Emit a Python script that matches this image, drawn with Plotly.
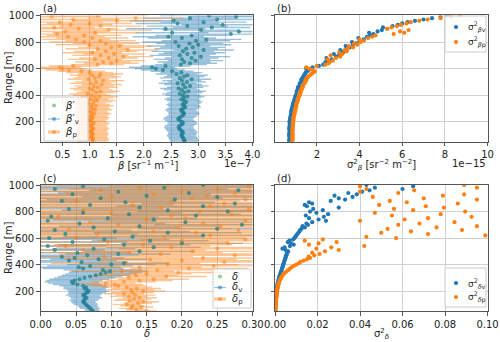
import numpy as np
import plotly.graph_objects as go

# ---------------- data ----------------
range_m = np.arange(50, 1001, 10)  # range gates [m]

# backscatter estimates [1e-7 sr^-1 m^-1]
beta_v = [2.74, 2.75, 2.73, 2.72, 2.70, 2.69, 2.71, 2.72, 2.70, 2.67,
          2.65, 2.64, 2.66, 2.70, 2.72, 2.70, 2.66, 2.63, 2.65, 2.69,
          2.72, 2.74, 2.73, 2.70, 2.68, 2.72, 2.76, 2.74, 2.71, 2.75,
          2.78, 2.73, 2.69, 2.74, 2.80, 2.72, 2.66, 2.75, 2.82, 2.70,
          2.64, 2.76, 2.85, 2.72, 2.62, 2.79, 2.70, 2.88, 2.66, 2.74,
          2.80, 2.60, 2.69, 2.52, 2.35, 2.22, 2.15, 2.40, 2.68, 2.85,
          2.74, 2.95, 2.70, 2.88, 3.05, 2.66, 2.80, 2.93, 2.72, 3.10,
          2.78, 2.90, 2.64, 3.00, 2.84, 2.58, 2.96, 3.15, 2.70, 2.45,
          2.88, 3.60, 2.52, 3.75, 3.05, 2.40, 3.25, 2.80, 3.45, 2.62,
          3.10, 2.55, 3.35, 2.85, 3.70, 3.20]
beta_p = [1.06, 1.05, 1.07, 1.04, 1.03, 1.05, 1.06, 1.04, 1.02, 1.05,
          1.07, 1.04, 1.02, 1.05, 1.08, 1.03, 1.00, 1.04, 1.06, 1.02,
          1.05, 1.09, 1.04, 1.01, 1.10, 1.06, 1.03, 1.12, 1.05, 0.98,
          1.08, 1.14, 1.02, 1.10, 1.18, 1.04, 0.96, 1.12, 1.20, 1.06,
          1.00, 1.15, 1.08, 1.22, 1.02, 1.12, 1.25, 0.98, 1.10, 1.18,
          1.05, 1.20, 1.00, 0.85, 0.62, 0.50, 0.45, 0.70, 1.15, 1.40,
          1.25, 1.50, 1.10, 1.35, 1.62, 1.20, 1.45, 1.05, 1.30, 1.70,
          1.15, 1.40, 1.55, 1.00, 1.30, 0.90, 1.20, 0.75, 1.05, 0.60,
          0.90, 0.40, 1.10, 0.55, 1.35, 0.80, 0.35, 1.20, 0.65, 1.00,
          0.45, 1.50, 0.70, 1.85, 0.30, 1.15]
beta_tot = list(beta_v)  # beta' coincides with beta_v' in the picture

# backscatter variances [1e-15 sr^-2 m^-2]
var_beta_v = [0.72, 0.71, 0.72, 0.73, 0.72, 0.70, 0.71, 0.72, 0.73, 0.72,
              0.71, 0.72, 0.73, 0.74, 0.73, 0.72, 0.74, 0.75, 0.76, 0.77,
              0.78, 0.80, 0.81, 0.80, 0.82, 0.84, 0.85, 0.87, 0.88, 0.90,
              0.92, 0.95, 0.96, 0.98, 1.00, 1.02, 1.05, 1.08, 1.06, 1.10,
              1.14, 1.12, 1.18, 1.22, 1.20, 1.26, 1.30, 1.28, 1.34, 1.38,
              1.40, 1.45, 1.48, 1.55, 1.62, 1.50, 1.80, 2.10, 2.30, 2.45,
              2.40, 2.55, 2.70, 2.45, 2.90, 3.05, 2.80, 3.20, 3.30, 3.10,
              3.40, 3.55, 3.35, 3.70, 3.85, 3.65, 4.00, 4.20, 3.95, 4.35,
              4.50, 4.65, 4.45, 4.85, 5.05, 5.30, 5.10, 5.55, 5.80, 6.00,
              6.25, 6.60, 7.00, 7.40, 7.80, 8.10]
var_beta_p = [0.86, 0.85, 0.87, 0.86, 0.85, 0.87, 0.86, 0.85, 0.86, 0.87,
              0.86, 0.87, 0.88, 0.87, 0.89, 0.88, 0.90, 0.91, 0.90, 0.92,
              0.94, 0.96, 0.95, 0.98, 1.00, 0.99, 1.02, 1.04, 1.03, 1.06,
              1.08, 1.12, 1.10, 1.14, 1.16, 1.20, 1.18, 1.24, 1.22, 1.28,
              1.30, 1.34, 1.32, 1.38, 1.42, 1.45, 1.50, 1.48, 1.55, 1.60,
              1.68, 1.75, 1.85, 1.90, 1.80, 1.65, 1.50, 2.00, 2.40, 2.55,
              2.60, 2.75, 2.50, 2.90, 3.10, 2.65, 3.20, 3.05, 3.40, 3.30,
              3.45, 3.70, 3.50, 3.90, 3.75, 4.05, 4.20, 4.00, 4.40, 4.60,
              4.75, 5.60, 6.10, 5.90, 6.30, 5.30, 5.50, 5.75, 5.95, 6.20,
              6.40, 6.80, 7.20, 7.80, 8.30, 8.70]

# depolarisation estimates [-]
delta_v = [0.074, 0.072, 0.070, 0.068, 0.066, 0.064, 0.062, 0.060, 0.061, 0.063,
           0.065, 0.062, 0.060, 0.063, 0.066, 0.068, 0.065, 0.062, 0.064, 0.060,
           0.052, 0.046, 0.044, 0.048, 0.055, 0.062, 0.070, 0.078, 0.085, 0.092,
           0.098, 0.088, 0.060, 0.054, 0.070, 0.100, 0.118, 0.058, 0.040, 0.082,
           0.048, 0.030, 0.066, 0.110, 0.052, 0.140, 0.020, 0.075, 0.160, 0.010,
           0.118, 0.200, 0.045, 0.155, 0.090, 0.012, 0.130, 0.230, 0.035, 0.180,
           0.105, 0.020, 0.250, 0.075, 0.140, 0.285, 0.055, 0.205, 0.010, 0.160,
           0.095, 0.015, 0.220, 0.125, 0.060, 0.265, 0.180, 0.040, 0.140, 0.230,
           0.070, 0.275, 0.120, 0.030, 0.190, 0.085, 0.250, 0.150, 0.045, 0.210,
           0.110, 0.280, 0.020, 0.175, 0.060, 0.230]
delta_p = [0.150, 0.135, 0.128, 0.142, 0.130, 0.122, 0.138, 0.145, 0.126, 0.132,
           0.140, 0.125, 0.134, 0.118, 0.130, 0.145, 0.128, 0.136, 0.122, 0.110,
           0.105, 0.092, 0.118, 0.140, 0.160, 0.125, 0.178, 0.135, 0.150, 0.195,
           0.115, 0.165, 0.210, 0.140, 0.245, 0.180, 0.120, 0.260, 0.200, 0.155,
           0.230, 0.090, 0.275, 0.170, 0.125, 0.215, 0.060, 0.250, 0.185, 0.035,
           0.145, 0.265, 0.095, 0.200, 0.290, 0.050, 0.175, 0.240, 0.080, 0.220,
           0.160, 0.280, 0.040, 0.195, 0.255, 0.110, 0.230, 0.070, 0.290, 0.150,
           0.205, 0.025, 0.185, 0.270, 0.100, 0.225, 0.060, 0.295, 0.170, 0.240,
           0.130, 0.260, 0.185, 0.050, 0.290, 0.215, 0.100, 0.235, 0.160, 0.275,
           0.200, 0.085, 0.250, 0.140, 0.295, 0.180]
delta_tot = list(delta_v)  # delta coincides with delta_v in the picture

# depolarisation variances [-]
var_delta_v = [0.0001, 0.0001, 0.0002, 0.0002, 0.0002, 0.0003, 0.0003, 0.0003, 0.0004, 0.0004,
               0.0005, 0.0005, 0.0006, 0.0006, 0.0007, 0.0008, 0.0008, 0.0009, 0.0010, 0.0011,
               0.0012, 0.0013, 0.0015, 0.0016, 0.0018, 0.0019, 0.0021, 0.0023, 0.0025, 0.0027,
               0.0029, 0.0031, 0.0033, 0.0035, 0.0037, 0.0039, 0.0041, 0.0043, 0.0045, 0.0047,
               0.0049, 0.0051, 0.0053, 0.0055, 0.0058, 0.0062, 0.0050, 0.0035, 0.0045, 0.0070,
               0.0088, 0.0075, 0.0060, 0.0068, 0.0085, 0.0092, 0.0096, 0.0100, 0.0105, 0.0110,
               0.0115, 0.0118, 0.0125, 0.0140, 0.0130, 0.0155, 0.0148, 0.0175, 0.0240, 0.0205,
               0.0160, 0.0230, 0.0145, 0.0250, 0.0195, 0.0165, 0.0225, 0.0180, 0.0300, 0.0150,
               0.0140, 0.0175, 0.0160, 0.0262, 0.0330, 0.0300, 0.0365, 0.0280, 0.0385, 0.0345,
               0.0410, 0.0445, 0.0600, 0.0470, 0.0650, 0.0430]
var_delta_p = [0.0002, 0.0002, 0.0003, 0.0003, 0.0003, 0.0004, 0.0004, 0.0005, 0.0005, 0.0006,
               0.0006, 0.0007, 0.0008, 0.0008, 0.0009, 0.0010, 0.0011, 0.0012, 0.0013, 0.0015,
               0.0016, 0.0018, 0.0020, 0.0022, 0.0025, 0.0028, 0.0032, 0.0036, 0.0040, 0.0048,
               0.0055, 0.0063, 0.0070, 0.0078, 0.0088, 0.0100, 0.0112, 0.0120, 0.0135, 0.0150,
               0.0165, 0.0158, 0.0185, 0.0210, 0.0175, 0.0235, 0.0300, 0.0195, 0.0265, 0.0420,
               0.0160, 0.0205, 0.0290, 0.0140, 0.0225, 0.0570, 0.0430, 0.0990, 0.0720, 0.0500,
               0.0640, 0.0880, 0.0530, 0.0760, 0.0950, 0.0580, 0.0680, 0.0845, 0.0400, 0.0610,
               0.0720, 0.0925, 0.0550, 0.0780, 0.0470, 0.0895, 0.0650, 0.0560, 0.0795, 0.0710,
               0.0490, 0.0860, 0.0620, 0.0540, 0.0950, 0.0700, 0.0460, 0.0790, 0.0890, 0.0580,
               0.0400, 0.0655, 0.0430, 0.0950, 0.0400, 0.0890]

# tick labels
y_ticks = [200, 400, 600, 800, 1000]
xa_ticks = [0.5, 1.0, 1.5, 2.0, 2.5, 3.0, 3.5, 4.0]
xb_ticks = [2, 4, 6, 8, 10]
xc_ticks = [0.00, 0.05, 0.10, 0.15, 0.20, 0.25, 0.30]
xd_ticks = [0.00, 0.02, 0.04, 0.06, 0.08, 0.10]

# ---------------- derived (1-sigma errors) ----------------
err_bv = np.sqrt(np.array(var_beta_v) * 1e-15) / 1e-7
err_bp = np.sqrt(np.array(var_beta_p) * 1e-15) / 1e-7
err_dv = np.sqrt(np.array(var_delta_v))
err_dp = np.sqrt(np.array(var_delta_p))

BLUE = "#1f77b4"
ORANGE = "#ff7f0e"
GREEN = "#2ca02c"
BLUE_A = "rgba(31,119,180,0.45)"
ORANGE_A = "rgba(255,127,14,0.45)"
GREEN_A = "rgba(44,160,44,0.5)"
BLUE_M = "rgba(31,119,180,0.55)"
ORANGE_M = "rgba(255,127,14,0.55)"
FONT = "DejaVu Sans"
SPINE = "#555555"
GRID = "#d0d0d0"
TXT = "#222222"
W, H = 500, 342

fig = go.Figure()


def errbars(x, err, color, xa, ya):
    fig.add_trace(go.Scatter(
        x=x, y=range_m, mode="markers", xaxis=xa, yaxis=ya, showlegend=False,
        marker=dict(size=1, opacity=0),
        error_x=dict(type="data", array=err, visible=True, color=color,
                     thickness=1.4, width=0),
        hoverinfo="skip"))


def dots(x, color, xa, ya, size=4.2):
    fig.add_trace(go.Scatter(
        x=x, y=range_m, mode="markers", xaxis=xa, yaxis=ya, showlegend=False,
        marker=dict(size=size, color=color, line=dict(width=0))))


# panel (a)
errbars(beta_v, err_bv, BLUE_A, "x", "y")
errbars(beta_p, err_bp, ORANGE_A, "x", "y")
dots(beta_p, ORANGE_M, "x", "y", 4)
dots(beta_tot, GREEN_A, "x", "y", 4)
dots(beta_v, BLUE_M, "x", "y", 4)

# panel (b)
dots(var_beta_v, BLUE, "x2", "y2")
dots(var_beta_p, ORANGE, "x2", "y2")

# panel (c)
errbars(delta_v, err_dv, BLUE_A, "x3", "y3")
errbars(delta_p, err_dp, ORANGE_A, "x3", "y3")
dots(delta_p, ORANGE_M, "x3", "y3", 4)
dots(delta_tot, GREEN_A, "x3", "y3", 4)
dots(delta_v, BLUE_M, "x3", "y3", 4)

# panel (d)
dots(var_delta_v, BLUE, "x4", "y4")
dots(var_delta_p, ORANGE, "x4", "y4")


def axis(domain, rng, ticks, fmt, anchor, labels=True):
    return dict(domain=domain, range=rng, tickvals=ticks,
                ticktext=[fmt.format(t) for t in ticks], showticklabels=labels,
                anchor=anchor, showgrid=True, gridcolor=GRID, gridwidth=1,
                showline=True, linecolor=SPINE, linewidth=1, mirror=True,
                ticks="outside", ticklen=3.5, tickwidth=1, tickcolor=SPINE,
                tickfont=dict(family=FONT, size=10, color=TXT),
                zeroline=False)


XA = [0.0814, 0.505]
XB = [0.55, 0.975]
YT = [0.5857, 0.9547]
YB = [0.0906, 0.459]

fig.update_layout(
    width=W, height=H, margin=dict(l=0, r=0, t=0, b=0),
    template="none", paper_bgcolor="white", plot_bgcolor="white",
    font=dict(family=FONT, size=10, color=TXT), showlegend=False,
    xaxis=axis(XA, [0.1, 4.0], xa_ticks, "{:.1f}", "y"),
    yaxis=axis(YT, [50, 1000], y_ticks, "{:d}", "x"),
    xaxis2=axis(XB, [0.04, 10], xb_ticks, "{:d}", "y2"),
    yaxis2=axis(YT, [50, 1000], y_ticks, "{:d}", "x2", labels=False),
    xaxis3=axis(XA, [0, 0.30], xc_ticks, "{:.2f}", "y3"),
    yaxis3=axis(YB, [50, 1000], y_ticks, "{:d}", "x3"),
    xaxis4=axis(XB, [0, 0.10], xd_ticks, "{:.2f}", "y4"),
    yaxis4=axis(YB, [50, 1000], y_ticks, "{:d}", "x4", labels=False),
)


def px(x):
    return x / W


def py(y):
    return 1 - y / H


def txt(x_px, y_px, s, xanchor="center", angle=0, size=10):
    fig.add_annotation(x=px(x_px), y=py(y_px), xref="paper", yref="paper",
                       text=s, showarrow=False, xanchor=xanchor, yanchor="middle",
                       textangle=angle, font=dict(family=FONT, size=size, color=TXT))


# ---- legends (drawn as boxes + keys) ----
def legend_box(x0, y0, x1, y1):
    fig.add_shape(type="rect", xref="paper", yref="paper",
                  x0=px(x0), x1=px(x1), y0=py(y1), y1=py(y0),
                  fillcolor="rgba(255,255,255,0.8)", line=dict(color="#cccccc", width=1))


def legend_key(xc, yc, color, label, bar_color=None, bar_w=1.3, tx=None, size=10):
    if bar_color:
        fig.add_shape(type="line", xref="paper", yref="paper",
                      x0=px(xc - 6), x1=px(xc + 6), y0=py(yc), y1=py(yc),
                      line=dict(color=bar_color, width=bar_w))
    r = 2.1
    fig.add_shape(type="circle", xref="paper", yref="paper",
                  x0=px(xc - r), x1=px(xc + r), y0=py(yc + r), y1=py(yc - r),
                  fillcolor=color, line=dict(width=0))
    txt(tx if tx else xc + 9, yc, label, xanchor="left", size=size)


legend_box(44, 97, 88, 141)
legend_key(54, 105.5, GREEN_A, "<i>β</i>′", tx=63)
legend_key(54, 119, BLUE_M, "<i>β</i>′<sub>v</sub>", BLUE_A, tx=63)
legend_key(54, 132, ORANGE_M, "<i>β</i><sub>p</sub>", ORANGE_A, bar_w=3, tx=63)

legend_box(445, 16, 486, 52)
legend_key(456, 27, BLUE, "σ<sup>2</sup><sub><i>β</i>v</sub>", tx=466, size=9)
legend_key(456, 42, ORANGE, "σ<sup>2</sup><sub><i>β</i>p</sub>", tx=466, size=9)

legend_box(213, 269, 251, 308)
legend_key(220, 276.5, GREEN_A, "<i>δ</i>", tx=230)
legend_key(220, 287.5, BLUE_M, "<i>δ</i><sub>v</sub>", BLUE_A, tx=230)
legend_key(220, 299, ORANGE_M, "<i>δ</i><sub>p</sub>", ORANGE_A, bar_w=3, tx=230)

legend_box(445, 268, 486, 307)
legend_key(456, 283, BLUE, "σ<sup>2</sup><sub><i>δ</i>v</sub>", tx=466, size=9)
legend_key(456, 297, ORANGE, "σ<sup>2</sup><sub><i>δ</i>p</sub>", tx=466, size=9)

# ---- titles and axis labels ----
txt(41, 8, "(a)", "left")
txt(275, 8, "(b)", "left")
txt(41, 178, "(c)", "left")
txt(275, 178, "(d)", "left")
txt(147, 165, "<i>β</i> [sr<sup>−1</sup> m<sup>−1</sup>]")
txt(253, 163.5, "1e−7", "right")
txt(381, 165, "σ<sup>2</sup><sub><i>β</i></sub> [sr<sup>−2</sup> m<sup>−2</sup>]")
txt(488, 163.5, "1e−15", "right")
txt(147, 333, "<i>δ</i>")
txt(381, 334, "σ<sup>2</sup><sub><i>δ</i></sub>")
txt(8, 78, "Range [m]", angle=-90)
txt(8, 248, "Range [m]", angle=-90)

fig.write_html("out.html")
